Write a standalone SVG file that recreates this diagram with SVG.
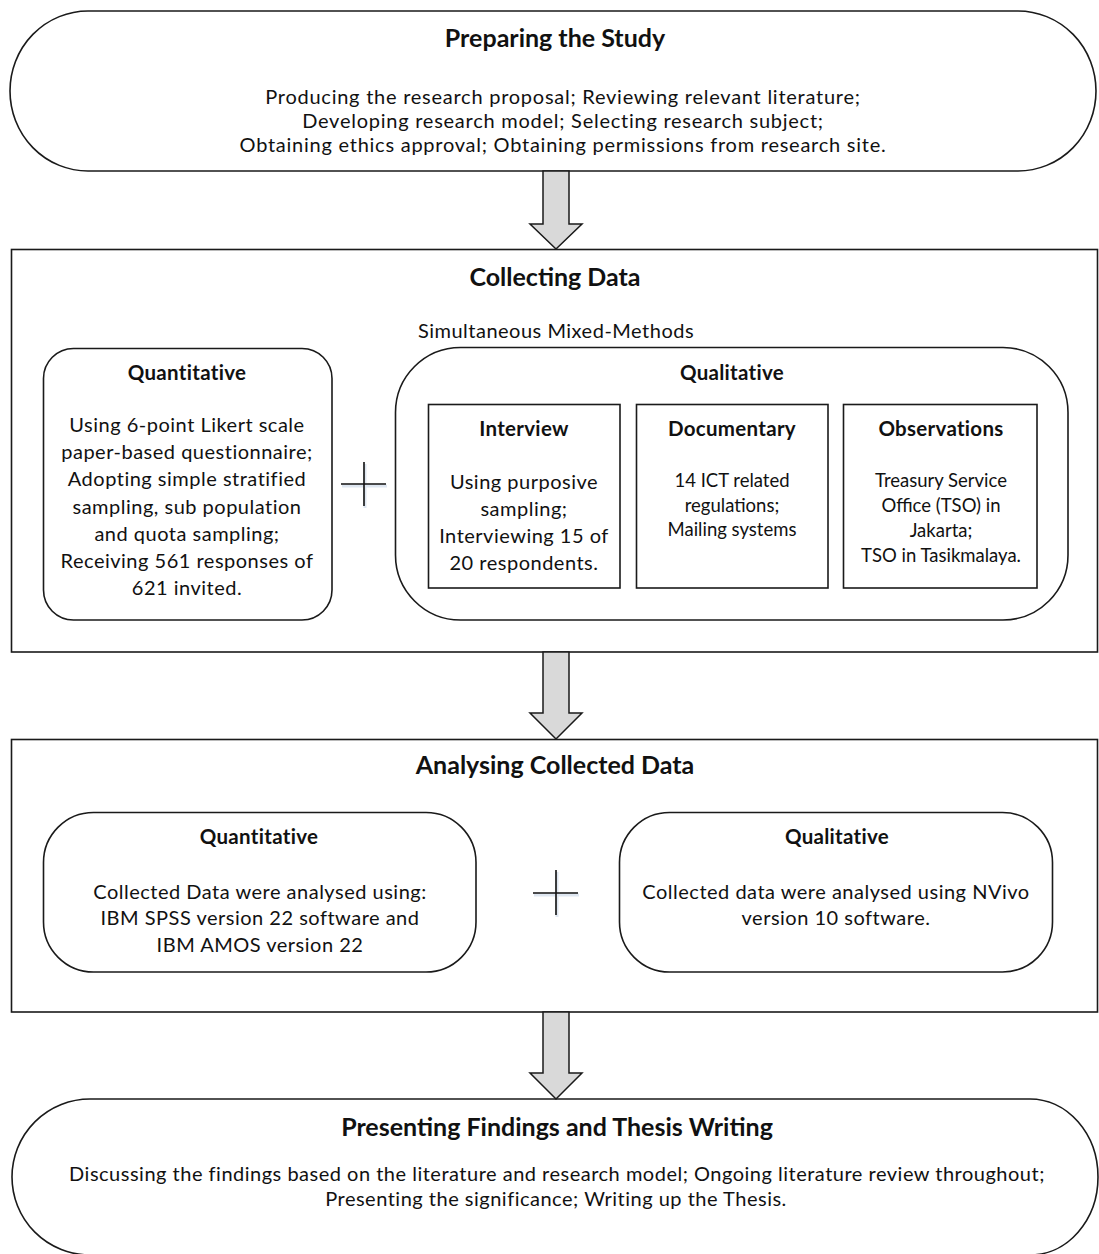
<svg xmlns="http://www.w3.org/2000/svg" width="1099" height="1254" viewBox="0 0 1099 1254">
  <style>
    .shape { fill: #ffffff; stroke: #1a1a1a; stroke-width: 1.6; }
    .arrow { fill: #d9d9d9; stroke: #1a1a1a; stroke-width: 1.5; stroke-linejoin: miter; }
    .plus { stroke: #111111; stroke-width: 1.6; fill: none; }
    .plus-shadow { stroke: #dfe7f1; stroke-width: 3; fill: none; }
    text { font-family: Lato, "Open Sans", "Liberation Sans", sans-serif; fill: #111111; text-anchor: middle; }
    .title { font-size: 25px; font-weight: bold; }
    .sub { font-size: 20.5px; font-weight: bold; letter-spacing: 0.3px; }
    .body { font-size: 20px; letter-spacing: 0.5px; }
    .lead { font-size: 20px; letter-spacing: 0.75px; }
    .note { font-size: 18.5px; }
  </style>

  <!-- Stage 1 -->
  <g id="preparing">
    <path class="shape" d="M 88,11 H 1018 A 78 80 0 0 1 1018,171 H 88 A 78 80 0 0 1 88,11 Z"/>
    <text class="title" x="555" y="46.5">Preparing the Study</text>
    <text class="lead" x="563" y="104">Producing the research proposal; Reviewing relevant literature;</text>
    <text class="lead" x="563" y="128">Developing research model; Selecting research subject;</text>
    <text class="lead" x="563" y="152">Obtaining ethics approval; Obtaining permissions from research site.</text>
  </g>

  <!-- Stage 2 -->
  <g id="collecting">
    <rect class="shape" x="11.5" y="249.5" width="1086" height="402.5"/>
    <text class="title" x="555" y="286">Collecting Data</text>
    <text class="body" x="556" y="338">Simultaneous Mixed-Methods</text>
  </g>

  <g id="collect-quantitative">
    <rect class="shape" x="43.5" y="348.5" width="288.5" height="271.5" rx="30" ry="30"/>
    <text class="sub" x="187" y="379.5">Quantitative</text>
    <text class="body" x="187" y="432">Using 6-point Likert scale</text>
    <text class="body" x="187" y="459">paper-based questionnaire;</text>
    <text class="body" x="187" y="486">Adopting simple stratified</text>
    <text class="body" x="187" y="513.5">sampling, sub population</text>
    <text class="body" x="187" y="540.5">and quota sampling;</text>
    <text class="body" x="187" y="567.5">Receiving 561 responses of</text>
    <text class="body" x="187" y="595">621 invited.</text>
  </g>

  <g id="collect-qualitative">
    <rect class="shape" x="395.5" y="347.5" width="672.5" height="272.5" rx="65" ry="65"/>
    <text class="sub" x="732" y="379.5">Qualitative</text>
  </g>

  <g id="interview">
    <rect class="shape" x="428.5" y="404.5" width="191.5" height="183.5"/>
    <text class="sub" x="524" y="435.5">Interview</text>
    <text class="body" x="524" y="489">Using purposive</text>
    <text class="body" x="524" y="516">sampling;</text>
    <text class="body" x="524" y="543">Interviewing 15 of</text>
    <text class="body" x="524" y="570">20 respondents.</text>
  </g>

  <g id="documentary">
    <rect class="shape" x="636.5" y="404.5" width="191.5" height="183.5"/>
    <text class="sub" x="732" y="435.5">Documentary</text>
    <text class="note" x="732" y="486.5">14 ICT related</text>
    <text class="note" x="732" y="511.5">regulations;</text>
    <text class="note" x="732" y="535.5">Mailing systems</text>
  </g>

  <g id="observations">
    <rect class="shape" x="843.5" y="404.5" width="193.5" height="183.5"/>
    <text class="sub" x="941" y="435.5">Observations</text>
    <text class="note" x="941" y="486.5">Treasury Service</text>
    <text class="note" x="941" y="511.5">Office (TSO) in</text>
    <text class="note" x="941" y="536.5">Jakarta;</text>
    <text class="note" x="941" y="562">TSO in Tasikmalaya.</text>
  </g>

  <g id="plus-collect">
    <path class="plus-shadow" d="M 342,486 H 387 M 365,464 V 508"/>
    <path class="plus" d="M 341,484 H 386 M 364,462 V 506"/>
  </g>

  <!-- Stage 3 -->
  <g id="analysing">
    <rect class="shape" x="11.5" y="739.5" width="1086" height="272.5"/>
    <text class="title" x="555" y="774">Analysing Collected Data</text>
  </g>

  <g id="analyse-quantitative">
    <rect class="shape" x="43.5" y="812.5" width="432.5" height="159.5" rx="50" ry="50"/>
    <text class="sub" x="259" y="843.5">Quantitative</text>
    <text class="body" x="260" y="899">Collected Data were analysed using:</text>
    <text class="body" x="260" y="925">IBM SPSS version 22 software and</text>
    <text class="body" x="260" y="952">IBM AMOS version 22</text>
  </g>

  <g id="plus-analyse">
    <path class="plus-shadow" d="M 534,895 H 579 M 557,872 V 917"/>
    <path class="plus" d="M 533,893 H 578 M 556,870 V 915"/>
  </g>

  <g id="analyse-qualitative">
    <rect class="shape" x="619.5" y="812.5" width="433" height="159.5" rx="50" ry="50"/>
    <text class="sub" x="837" y="843.5">Qualitative</text>
    <text class="body" x="836" y="899">Collected data were analysed using NVivo</text>
    <text class="body" x="836" y="925">version 10 software.</text>
  </g>

  <!-- Stage 4 -->
  <g id="presenting">
    <path class="shape" d="M 90,1099 H 1030 A 68 78 0 0 1 1098,1177 A 68 78 0 0 1 1030,1255 H 90 A 78 78 0 0 1 12,1177 A 78 78 0 0 1 90,1099 Z"/>
    <text class="title" x="557" y="1136">Presenting Findings and Thesis Writing</text>
    <text class="body" x="557" y="1181">Discussing the findings based on the literature and research model; Ongoing literature review throughout;</text>
    <text class="body" x="556" y="1206">Presenting the significance; Writing up the Thesis.</text>
  </g>

  <!-- Flow arrows between stages -->
  <g id="connectors">
    <path class="arrow" d="M 543,171 H 569 V 224 H 582 L 556,249 L 530,224 H 543 Z"/>
    <path class="arrow" d="M 543,652 H 569 V 713 H 582 L 556,739 L 530,713 H 543 Z"/>
    <path class="arrow" d="M 543,1012 H 569 V 1073 H 582 L 556,1099 L 530,1073 H 543 Z"/>
  </g>
</svg>
